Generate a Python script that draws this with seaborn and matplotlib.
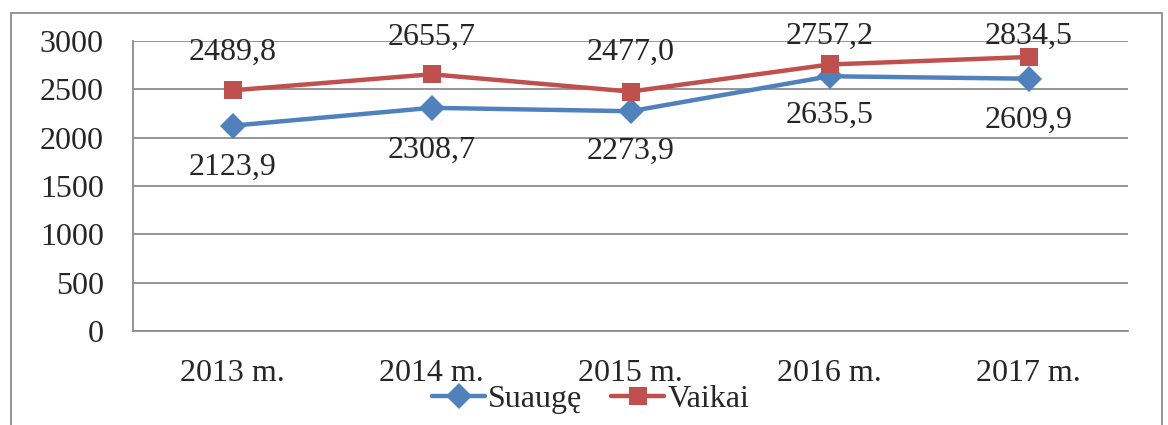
import pandas as pd
import matplotlib.pyplot as plt
import seaborn as sns
from matplotlib.patches import Rectangle

# Data
years = ["2013 m.", "2014 m.", "2015 m.", "2016 m.", "2017 m."]
suauge = [2123.9, 2308.7, 2273.9, 2635.5, 2609.9]
vaikai = [2489.8, 2655.7, 2477.0, 2757.2, 2834.5]

# label offsets in pixels (Excel clamps the top ones)
suauge_off = [42, 42, 40, 39, 42]
vaikai_off = [38, 37, 39, 28, 21]

df = pd.DataFrame({
    "year": years * 2,
    "value": suauge + vaikai,
    "group": ["Suaugę"] * len(years) + ["Vaikai"] * len(years),
})

sns.set_style("white")
plt.rcParams["font.family"] = ["Liberation Serif", "DejaVu Serif"]

colors = {"Suaugę": "#4F81BD", "Vaikai": "#C0504D"}
markers = {"Suaugę": "D", "Vaikai": "s"}
fs = 23

fig = plt.figure(figsize=(11.68, 4.25), dpi=100)
ax = fig.add_axes([0.1139, 0.2212, 0.8519, 0.6823])

sns.lineplot(data=df, x="year", y="value", hue="group", style="group",
             palette=colors, markers=markers, dashes=False, linewidth=3.2,
             markersize=13, markeredgewidth=0, ax=ax, sort=False)

# Data labels
for i, v in enumerate(suauge):
    ax.annotate(f"{v:.1f}".replace(".", ","), (i, v), xytext=(0, -suauge_off[i]),
                textcoords="offset pixels", ha="center", va="center", fontsize=fs)
for i, v in enumerate(vaikai):
    ax.annotate(f"{v:.1f}".replace(".", ","), (i, v), xytext=(0, vaikai_off[i]),
                textcoords="offset pixels", ha="center", va="center", fontsize=fs)

ax.set_xlim(-0.5, 4.5)
ax.set_ylim(0, 3000)
ax.set_yticks(range(0, 3001, 500))
ax.yaxis.grid(True, color="#8c8c8c", linewidth=1.3)
ax.set_axisbelow(True)
ax.set_xlabel("")
ax.set_ylabel("")
ax.tick_params(axis="both", length=0, labelsize=fs)
ax.tick_params(axis="y", pad=21)
ax.tick_params(axis="x", pad=20)
for s in ["top", "right"]:
    ax.spines[s].set_visible(False)
for s in ["left", "bottom"]:
    ax.spines[s].set_color("#8c8c8c")
    ax.spines[s].set_linewidth(1.3)

# legend centred on the whole chart frame, not the plot area
leg = ax.legend(loc="center", bbox_to_anchor=(0.46, -0.235), ncol=2, frameon=False,
                fontsize=fs, handlelength=1.65, handletextpad=0.1, columnspacing=0.9)

# Outer chart border
fig.patches.append(Rectangle((11 / 1168, -0.05), 1151 / 1168, 1.05 - 13 / 425,
                             transform=fig.transFigure, fill=False,
                             edgecolor="#8c8c8c", linewidth=1.3))

fig.savefig("out.png", dpi=100)
